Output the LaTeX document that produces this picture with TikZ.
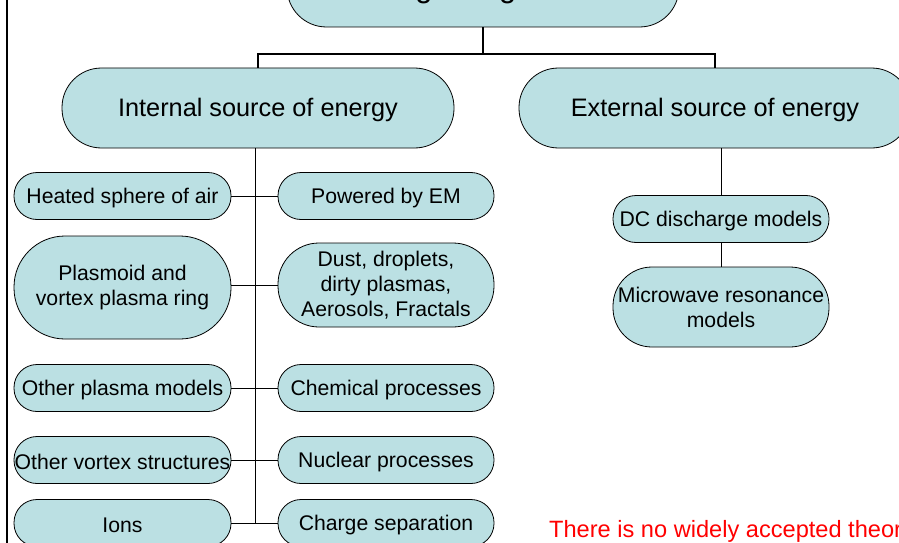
\documentclass[tikz,border=0pt]{standalone}
\usepackage{fontspec}
\setmainfont{Liberation Sans}
\definecolor{boxfill}{RGB}{187,224,227}
\begin{document}
\begin{tikzpicture}[x=1pt,y=-1pt,
  box/.style={draw=black, line width=0.8pt, fill=boxfill, inner sep=0pt, align=center,
    font=\fontsize{21.2}{25}\selectfont, execute at begin node={\rule{0pt}{0.9em}}},
  bigbox/.style={box, minimum width=392pt, minimum height=80pt, rounded corners=39.5pt,
    font=\fontsize{25.3}{30}\selectfont},
  sbox/.style={box, minimum width=216pt, minimum height=47pt, rounded corners=23pt},
  tallbox/.style={box, minimum width=216pt, minimum height=80pt, rounded corners=39pt},
  thickline/.style={draw=black, line width=2.6pt},
  thinline/.style={draw=black, line width=0.9pt}
]
\useasboundingbox (0,0) rectangle (899,543);
\clip (0,0) rectangle (899,543);

% frame line on the left
\draw[line width=2.5pt] (7,-5) -- (7,550);

% top level
\node[bigbox, font=\fontsize{30.8}{36}\selectfont] (top) at (483,-13) {Ball lightning models};
\node[bigbox] (int) at (258,108) {Internal source of energy};
\node[bigbox] (ext) at (715,108) {External source of energy};
\coordinate (bar) at (483,54);
\draw[thickline] (top.south) -- (bar);
\draw[thickline] (int.north) |- (bar) -| (ext.north);

% internal: left column
\node[sbox, minimum width=217pt] (heat) at (122.5,196) {Heated sphere of air};
\node[box, minimum width=217pt, minimum height=103pt, rounded corners=51pt] (plas) at (122.5,287.5) {Plasmoid and\\vortex plasma ring};
\node[sbox, minimum width=217pt] (opm) at (122.5,388) {Other plasma models};
\node[sbox, minimum width=217pt] (ovs) at (122.5,460) {Other vortex structures};
\node[sbox, minimum width=217pt] (ions) at (122.5,523) {Ions};

% internal: right column
\node[sbox] (pow) at (386,196) {Powered by EM};
\node[box, minimum width=216pt, minimum height=84pt, rounded corners=41pt] (dust) at (386,285) {Dust, droplets,\\dirty plasmas,\\Aerosols, Fractals};
\node[sbox] (chem) at (386,388) {Chemical processes};
\node[sbox] (nuc) at (386,460) {Nuclear processes};
\node[sbox] (chg) at (386,523) {Charge separation};

% internal trunk and branches
\coordinate (trunkend) at (255,523);
\draw[thinline] (int.south -| trunkend) -- (trunkend);
\draw[thinline] (heat.east) -- (pow.west);
\draw[thinline] (plas.east |- dust.west) -- (dust.west);
\draw[thinline] (opm.east) -- (chem.west);
\draw[thinline] (ovs.east) -- (nuc.west);
\draw[thinline] (ions.east) -- (chg.west);

% external
\node[sbox] (dc) at (721,219) {DC discharge models};
\node[tallbox] (mw) at (721,307) {Microwave resonance\\models};
\draw[thinline] (dc.north) -- (dc.north |- ext.south);
\draw[thinline] (dc.south) -- (mw.north);

% note
\node[anchor=base west, inner sep=0pt, text=red, font=\fontsize{23.6}{28}\selectfont] (note) at (549,537) {There is no widely accepted theory};
\end{tikzpicture}
\end{document}
